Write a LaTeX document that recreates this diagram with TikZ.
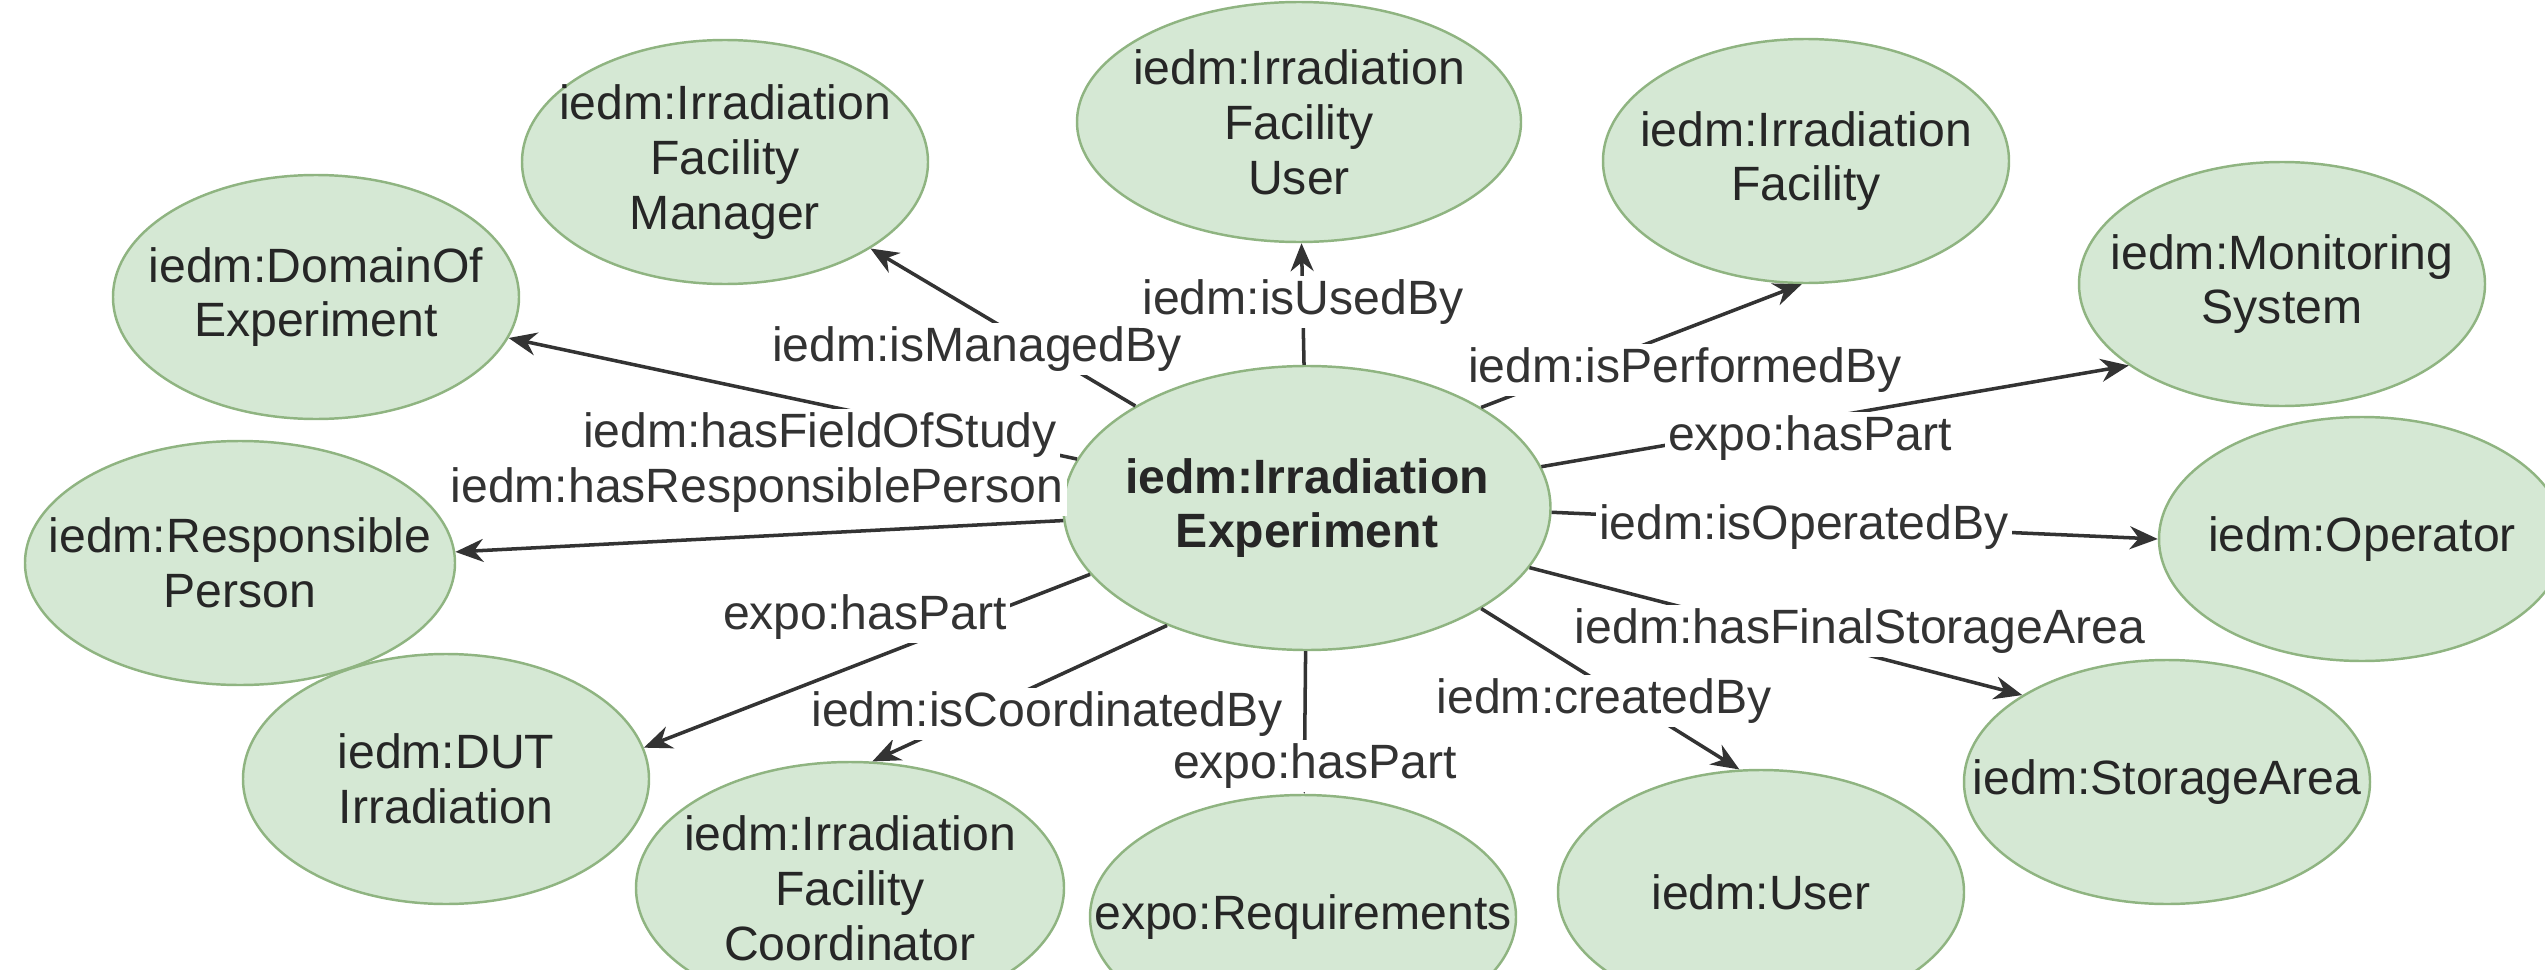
\documentclass[tikz,border=0pt]{standalone}
\usepackage{fontspec}
\setmainfont{Liberation Sans}
\usetikzlibrary{shapes.geometric,arrows.meta}
\definecolor{entfill}{HTML}{D5E8D4}
\definecolor{entline}{HTML}{8FB481}
\definecolor{reltext}{HTML}{333333}
\newcommand{\dfont}{\fontsize{13.7}{15.6}\selectfont}
\tikzset{
  ent/.style={ellipse, draw=entline, fill=entfill, line width=0.7pt,
    minimum width=4.06cm, minimum height=2.44cm, inner sep=0pt},
  enttxt/.style={align=center, text=black!85, font=\dfont},
  enttxtb/.style={align=center, text=black!85, font=\bfseries\dfont},
  rel/.style={draw=reltext, line width=1pt, -{Stealth[length=2.8mm,width=2.3mm]}},
  rellbl/.style={fill=white, inner sep=1pt, text=reltext, font=\dfont}
}
\begin{document}
\begin{tikzpicture}
  \useasboundingbox (0,0) rectangle (25.45,-9.70);
  \node[ent, minimum width=4.87cm, minimum height=2.84cm,
    label={[enttxtb]center:{iedm:Irradiation\\Experiment}}] (exp) at (13.07,-5.08) {};
  \node[ent, label={[enttxt]center:{iedm:DomainOf\\Experiment}}] (dom) at (3.16,-2.97) {};
  \node[ent, label={[enttxt]center:{iedm:Irradiation\\Facility\\Manager}}] (mgr) at (7.25,-1.62) {};
  \node[ent, minimum width=4.44cm, minimum height=2.40cm,
    label={[enttxt]center:{iedm:Irradiation\\Facility\\User}}] (fuser) at (12.99,-1.22) {};
  \node[ent, label={[enttxt]center:{iedm:Irradiation\\Facility}}] (fac) at (18.06,-1.61) {};
  \node[ent, label={[enttxt]center:{iedm:Monitoring\\System}}] (mon) at (22.82,-2.84) {};
  \node[ent, minimum width=4.30cm, label={[enttxt]center:{iedm:Responsible\\Person}}] (resp) at (2.40,-5.63) {};
  \node[ent, label={[enttxt]center:{iedm:Operator}}] (op) at (23.62,-5.39) {};
  \node[ent, minimum height=2.50cm, label={[enttxt]center:{iedm:DUT\\Irradiation}}] (dut) at (4.46,-7.79) {};
  \node[ent, minimum width=4.28cm, minimum height=2.52cm,
    label={[enttxt]center:{iedm:Irradiation\\Facility\\Coordinator}}] (coord) at (8.50,-8.88) {};
  \node[ent, minimum width=4.26cm, label={[enttxt]center:{expo:Requirements}}] (req) at (13.03,-9.17) {};
  \node[ent, label={[enttxt]center:{iedm:User}}] (usr) at (17.61,-8.92) {};
  \node[ent, label={[enttxt]center:{iedm:StorageArea}}] (sto) at (21.67,-7.82) {};
  \begin{scope}[rel]
    \draw (exp) to (mgr);
    \draw (exp) to (dom);
    \draw (exp) to (resp);
    \draw (exp) to (fuser);
    \draw (exp.30) to (fac.-92);
    \draw (exp.10) to (mon.208);
    \draw (exp.-1) to (op.180);
    \draw (exp.-15) to (sto.149);
    \draw (exp.-30) to (usr.100);
    \draw (exp) to (req);
    \draw (exp.220) to (coord.80);
    \draw (exp.197) to (dut.9);
  \end{scope}
  \node[rellbl] (lmgr) at (9.77,-3.49) {iedm:isManagedBy};
  \node[rellbl] (ldom) at (8.20,-4.35) {iedm:hasFieldOfStudy};
  \node[rellbl] (lresp) at (7.57,-4.90) {iedm:hasResponsiblePerson};
  \node[rellbl] (lfuser) at (13.03,-3.02) {iedm:isUsedBy};
  \node[rellbl] (lfac) at (16.85,-3.70) {iedm:isPerformedBy};
  \node[rellbl] (lmon) at (18.10,-4.38) {expo:hasPart};
  \node[rellbl] (lop) at (18.04,-5.27) {iedm:isOperatedBy};
  \node[rellbl] (lsto) at (18.60,-6.31) {iedm:hasFinalStorageArea};
  \node[rellbl] (lusr) at (16.04,-7.01) {iedm:createdBy};
  \node[rellbl] (lreq) at (13.15,-7.66) {expo:hasPart};
  \node[rellbl] (lcoord) at (10.47,-7.14) {iedm:isCoordinatedBy};
  \node[rellbl] (ldut) at (8.65,-6.17) {expo:hasPart};
\end{tikzpicture}
\end{document}
